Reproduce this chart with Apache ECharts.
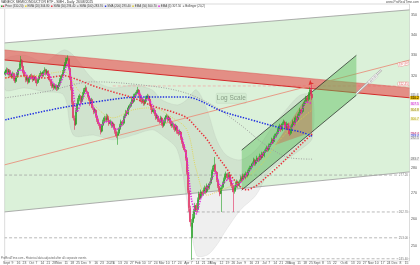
<!DOCTYPE html>
<html><head><meta charset="utf-8">
<script src="https://cdn.jsdelivr.net/npm/echarts@6/dist/echarts.min.js"></script>
<style>html,body{margin:0;padding:0;background:#fff}#c{width:420px;height:265px}</style>
</head><body><div id="c"></div>
<script>
// ---------- calendar / tick labels ----------
const startDate = [2024, 7, 30];
const totalDays = 339;
const monthLabels = ['2025','Feb','Mar','Apr','May','Jun','Jul','Aug','Sept','Oct','Nov','Dec'];
const yTickValues = [350, 340, 330, 320, 280, 270, 260, 250];

// ---------- price data [open, close, low, high] ----------
const ohlc = [
[321.0,322.2,320.3,323.0],[322.0,323.1,321.2,324.2],[323.3,321.2,320.6,324.0],[321.0,322.6,320.4,323.5],[322.8,320.7,319.8,323.4],
[320.5,319.8,318.9,321.6],[319.6,321.2,319.0,322.3],[321.4,318.9,318.0,321.8],[319.2,317.9,317.0,319.9],[317.7,319.3,316.9,320.1],
[319.5,321.2,318.8,322.0],[321.0,323.1,320.4,323.9],[323.4,325.9,322.8,326.8],[326.1,327.8,325.2,329.7],[327.5,325.0,324.1,328.2],
[324.8,322.2,321.4,325.3],[322.0,320.3,319.6,322.8],[320.5,318.4,317.3,321.0],[318.2,319.3,317.6,320.2],[319.5,317.5,316.4,320.0],
[317.3,318.9,316.8,319.6],[319.1,320.3,318.5,321.1],[320.5,319.3,318.6,321.3],[319.0,318.4,317.4,319.9],[318.6,319.8,317.9,320.6],
[320.0,318.9,318.0,320.8],[318.7,317.0,315.5,319.3],[317.2,318.4,316.5,319.1],[318.6,319.8,318.0,320.5],[320.0,320.7,319.2,321.6],
[320.9,321.7,320.2,322.6],[321.5,320.3,319.4,322.1],[320.5,322.2,319.9,323.0],[322.4,323.1,321.6,324.3],[322.9,321.2,320.4,323.6],
[321.4,322.6,320.8,323.5],[322.4,320.3,319.5,322.9],[320.1,318.4,317.6,320.8],[318.2,316.6,315.6,318.8],[316.4,315.6,314.5,317.2],
[315.4,316.1,314.6,316.9],[316.3,314.7,313.8,317.0],[314.5,315.6,313.9,316.4],[315.8,314.3,313.3,316.3],[314.1,315.2,313.5,316.0],
[315.4,316.6,314.7,317.4],[316.8,318.4,316.1,319.2],[318.6,320.3,318.0,321.1],[320.5,322.2,319.8,323.0],[322.4,324.0,321.7,324.9],
[324.2,325.9,323.5,326.8],[326.1,327.8,325.3,328.9],[328.0,328.7,327.2,330.0],[328.4,324.0,323.2,328.9],[323.8,319.3,318.4,324.3],
[319.1,314.7,313.6,319.6],[314.5,308.4,307.2,315.0],[308.2,301.3,300.1,308.8],[301.0,298.2,296.1,302.3],[298.5,303.9,297.8,304.8],
[304.1,307.0,303.2,307.9],[307.2,309.3,306.4,310.1],[309.5,311.1,308.6,312.0],[310.9,308.4,307.5,311.5],[308.6,310.2,307.8,311.1],
[310.4,312.0,309.6,312.9],[312.2,313.8,311.4,314.6],[314.0,314.7,313.2,315.9],[314.5,312.9,312.0,315.2],[312.7,311.1,310.3,313.4],
[310.9,309.7,308.8,311.6],[309.5,307.5,306.6,310.1],[307.7,309.3,307.0,310.2],[309.1,305.7,304.8,309.7],[305.5,303.9,302.9,306.2],
[304.1,304.8,303.2,305.8],[304.6,302.2,301.3,305.2],[302.0,300.4,299.5,302.7],[300.2,298.7,297.7,300.9],[298.5,297.0,296.1,299.2],
[296.8,295.3,294.1,297.5],[295.5,297.8,294.9,298.6],[298.0,299.6,297.2,300.5],[299.8,301.3,299.0,302.2],[301.1,300.4,299.5,302.0],
[300.6,302.2,299.9,303.1],[302.0,300.4,299.5,302.8],[300.2,298.7,297.8,300.9],[298.9,299.6,298.0,300.5],[299.4,297.8,296.9,300.0],
[298.0,298.7,297.1,299.6],[298.5,297.0,296.1,299.2],[296.8,295.3,294.4,297.5],[295.1,293.5,292.5,295.8],[293.7,294.4,289.7,295.3],
[294.6,296.1,293.8,297.0],[296.3,297.8,295.5,298.7],[298.0,299.6,297.2,300.5],[299.4,298.7,297.8,300.3],[298.9,301.3,298.1,302.2],
[301.5,302.2,300.7,303.1],[302.4,303.9,301.6,304.8],[303.7,303.0,302.1,304.6],[303.2,305.7,302.5,306.6],[305.9,306.6,305.1,307.5],
[306.4,307.5,305.7,308.4],[307.7,309.3,307.0,310.2],[309.1,308.4,307.5,310.0],[308.6,311.1,307.8,312.0],[311.3,312.0,310.5,312.9],
[312.2,312.9,311.4,313.8],[313.1,313.8,312.3,315.2],[313.6,312.0,311.1,314.2],[311.8,310.2,309.3,312.5],[310.0,308.4,307.5,310.7],
[308.6,309.3,307.7,310.2],[309.1,307.5,306.6,309.8],[307.7,308.4,306.8,309.3],[308.6,310.2,307.9,311.1],[310.4,311.1,309.6,312.0],
[310.9,309.7,308.8,311.6],[309.5,307.5,306.6,310.1],[307.3,305.7,304.8,308.0],[305.5,303.9,303.0,306.2],[304.1,304.8,303.2,305.7],
[304.6,303.0,302.1,305.3],[302.8,301.3,300.4,303.5],[301.5,302.2,300.7,303.1],[302.0,300.4,299.5,302.7],[300.2,299.6,298.7,301.0],
[299.8,301.3,299.0,302.2],[301.1,298.7,297.8,301.8],[298.5,297.8,296.9,299.4],[298.0,299.6,297.2,300.5],[299.8,301.3,299.0,302.2],
[301.5,302.2,300.7,303.1],[302.0,300.4,299.5,302.7],[300.6,301.3,299.8,302.2],[301.1,299.6,298.7,301.8],[299.4,297.8,296.9,300.1],
[298.0,298.7,297.1,299.6],[298.5,297.0,296.1,299.2],[296.8,296.1,295.2,297.6],[296.3,297.8,295.5,298.7],[297.6,295.3,294.4,298.2],
[295.1,294.4,293.5,295.9],[294.6,295.3,293.8,296.2],[295.1,292.7,291.8,295.6],[292.5,291.0,290.1,293.2],[290.8,289.3,288.4,291.5],
[289.1,287.6,286.6,289.8],[287.4,284.2,283.1,288.0],[284.0,278.5,277.4,284.5],[278.3,271.3,270.1,278.8],[271.0,264.3,262.8,271.6],
[264.0,259.0,257.2,265.1],[253.0,258.5,245.0,260.0],[258.7,260.5,256.8,262.0],[260.3,262.7,259.4,263.8],[262.9,265.1,262.0,266.2],
[265.3,263.5,262.4,266.1],[263.7,267.4,263.0,268.3],[267.6,269.7,266.8,270.6],[269.5,268.2,267.3,270.2],[268.4,270.5,267.6,271.4],
[270.3,269.7,268.8,271.2],[269.9,271.3,269.0,272.2],[271.5,272.1,270.6,273.0],[271.9,270.5,269.6,272.7],[270.7,272.9,270.0,273.8],
[272.7,272.1,271.2,273.5],[272.3,273.7,271.5,274.6],[273.9,275.3,273.1,276.2],[275.5,278.5,274.8,279.4],[278.7,280.1,277.9,281.0],
[280.3,281.3,279.5,284.6],[281.1,278.5,277.6,281.8],[278.3,275.3,274.4,278.9],[275.1,272.9,272.0,275.8],[272.7,271.3,270.4,273.4],
[271.1,269.7,268.8,271.8],[269.9,272.1,262.7,273.0],[272.3,273.7,271.5,274.6],[273.9,275.3,273.1,276.2],[275.5,276.9,274.7,277.8],
[277.1,277.7,276.3,278.6],[277.5,276.1,275.2,278.2],[276.3,277.3,275.5,278.2],[277.1,275.3,274.4,277.8],[275.1,273.7,272.8,275.8],
[273.5,272.9,272.0,274.4],[272.7,270.5,262.7,273.2],[270.7,272.1,269.8,273.0],[272.3,273.7,271.5,274.6],[273.9,274.5,273.0,275.4],
[274.3,272.9,272.0,275.0],[273.1,274.5,272.3,275.4],[274.7,276.1,273.9,277.0],[275.9,275.3,274.4,276.8],[275.5,276.9,274.7,277.8],
[276.7,276.1,275.2,277.6],[276.3,277.7,275.5,278.6],[277.5,276.9,276.0,278.4],[277.1,278.5,276.3,279.4],[278.7,279.3,277.9,280.2],
[279.5,280.1,278.7,281.0],[280.3,280.9,279.5,281.8],[281.1,281.8,280.3,282.7],[282.0,283.4,281.2,284.3],[283.2,281.8,280.9,283.9],
[282.0,282.6,281.1,283.5],[282.8,284.2,282.0,285.1],[284.0,283.4,282.5,284.9],[283.6,285.1,282.8,286.0],[284.9,284.2,283.3,285.7],
[284.4,285.9,283.6,286.8],[285.7,285.1,284.2,286.6],[285.3,286.8,284.5,287.7],[287.0,287.6,286.2,288.5],[287.8,288.4,287.0,289.3],
[288.2,287.6,286.7,289.1],[287.8,289.3,287.0,290.2],[289.5,290.1,288.7,291.0],[290.3,291.8,289.5,292.7],[291.6,290.9,290.0,292.4],
[291.1,292.7,290.3,293.6],[292.9,293.5,292.1,294.4],[293.7,294.4,292.9,295.3],[294.6,296.1,293.8,297.0],[296.3,297.0,295.5,297.9],
[297.2,297.8,296.4,298.7],[297.6,296.1,295.2,298.3],[296.3,298.7,295.5,299.6],[298.9,299.6,298.1,300.5],[299.4,297.8,296.9,300.1],
[297.6,297.0,296.1,298.5],[297.2,298.7,296.4,299.6],[298.5,296.1,295.2,299.2],[295.9,294.4,293.5,296.6],[294.6,297.0,293.8,297.9],
[297.2,297.8,296.4,298.7],[298.0,299.6,297.2,300.5],[299.4,298.7,297.8,300.3],[298.9,301.3,298.1,302.2],[301.1,300.4,299.5,302.0],
[300.6,302.2,299.8,303.1],[302.4,303.0,301.6,303.9],[303.2,304.8,302.4,305.7],[304.6,303.9,303.0,305.4],[304.1,306.6,303.3,307.5],
[306.8,307.5,306.0,308.4],[307.7,308.4,306.9,309.3],[308.6,310.2,307.8,311.1],[310.0,309.3,308.4,311.0],[309.5,312.0,308.7,312.9],
[312.2,313.8,311.4,315.0],[313.6,312.0,311.1,314.7],[311.8,310.2,309.3,316.3]
];

// ---------- indicators [dayIndex, value] ----------
const ema5 = [[0,321.2],[4,321.7],[8,319.8],[12,323.1],[16,322.2],[20,319.3],[24,319.3],[28,319.3],[32,321.2],[36,321.2],[40,317.0],[44,315.2],[48,319.3],[52,325.9],[56,316.1],[60,303.9],[64,308.4],[68,312.9],[72,308.4],[76,303.0],[80,297.8],[84,299.6],[88,299.6],[92,296.1],[96,297.0],[100,301.3],[104,305.7],[108,310.2],[112,312.5],[116,309.3],[120,309.3],[124,305.7],[128,301.3],[132,299.6],[136,301.3],[140,298.7],[144,297.0],[148,292.7],[152,284.2],[156,267.4],[160,262.0],[164,268.2],[168,271.3],[172,274.5],[176,278.5],[180,272.9],[184,274.5],[188,276.1],[192,272.9],[196,273.7],[200,276.1],[204,278.5],[208,281.8],[212,283.4],[216,285.9],[220,288.4],[224,290.9],[228,294.4],[232,297.8],[236,297.8],[240,297.0],[244,300.4],[248,303.9],[252,308.4],[257,307.5]];
const sma50 = [[0,319.3],[16,320.3],[32,319.3],[49,320.3],[61,318.4],[74,315.6],[90,312.9],[107,310.2],[123,306.6],[140,303.9],[152,301.3],[160,297.0],[169,291.8],[177,285.5],[185,280.1],[193,274.5],[202,271.3],[210,272.9],[218,276.1],[230,281.3],[243,287.6],[257,294.4]];
const sma200 = [[0,300.4],[38,304.8],[76,308.4],[115,310.6],[150,310.6],[183,303.9],[206,300.4],[230,297.0],[247,295.2],[257,293.4]];
const sma100 = [[0,310.2],[33,312.9],[74,317.5],[115,316.0],[148,312.9],[173,307.0],[197,298.2],[218,289.6],[239,284.2],[257,283.7]];
const ema20 = [[0,319.3],[24,320.3],[49,322.2],[61,313.8],[74,307.0],[90,301.3],[107,304.8],[123,305.7],[140,301.3],[152,296.1],[160,279.3],[169,269.2],[181,271.3],[197,274.5],[214,281.3],[230,291.8],[247,300.4],[257,304.8]];
const ema50Last = 300.7;
const bbUpper = [[0,327.8],[16,330.0],[33,326.9],[49,332.6],[57,330.0],[74,318.4],[90,314.7],[107,316.0],[123,313.8],[131,309.3],[144,307.0],[152,309.3],[160,313.8],[169,304.8],[177,291.8],[185,285.4],[197,283.4],[210,287.6],[222,296.1],[235,304.8],[247,311.4],[257,311.4]];
const bbLower = [[0,313.8],[16,314.7],[33,312.9],[49,311.4],[57,293.8],[74,293.8],[90,291.8],[107,293.8],[123,296.1],[131,293.8],[144,287.6],[152,267.4],[160,246.7],[169,246.7],[177,250.3],[185,255.9],[197,263.5],[210,269.2],[222,279.3],[235,283.4],[247,287.6],[257,292.5]];

// ---------- drawn objects [dayIndex, value] ----------
const bigChannelUpper = [[-1,336.0],[339,352.6]];
const bigChannelLower = [[-1,262.7],[339,278.5]];
const bandTop = [[-1,332.6],[339,314.7]];
const bandBottom = [[-1,327.8],[339,310.2]];
const thinRedLine = [[-1,281.3],[339,327.8]];
const trendUpper = [[198,287.5],[294,330.0]];
const trendLower = [[198,271.2],[294,311.4]];
const trendExtension = [[294,312.1],[315,323.0]];
const wedge = [[226,289.6],[257,314.7],[257,295.1]];
const levelValues = [277.2, 262.7, 253.0, 245.4];
const levelStarts = [-1, 152, -1, 156];
const pinkLevel = 315.6, pinkLevelStart = 90;
const signalPoint = [254, 316.0];

// ---------- build categories ----------
const cats = [], catDates = [];
{
  const d = new Date(Date.UTC(startDate[0], startDate[1], startDate[2]));
  while (cats.length < totalDays) {
    const wd = d.getUTCDay();
    if (wd > 0 && wd < 6) { catDates.push(new Date(d)); cats.push(d.toISOString().slice(0,10)); }
    d.setUTCDate(d.getUTCDate() + 1);
  }
}
const labelText = cats.map(() => '');
{
  let lastMonthStart = -10;
  for (let i = 0; i < catDates.length; i++) {
    const d = catDates[i], p = i > 0 ? catDates[i-1] : null;
    if (p && d.getUTCMonth() !== p.getUTCMonth()) {
      labelText[i] = d.getUTCMonth() === 0 ? String(d.getUTCFullYear()) : monthLabels[d.getUTCMonth()];
      lastMonthStart = i; continue;
    }
    if (d.getUTCDay() === 1 && i > 0) {
      let near = false;
      for (let k = 1; k <= 2 && i+k < catDates.length; k++) if (catDates[i+k].getUTCMonth() !== d.getUTCMonth()) near = true;
      if (!near && i - lastMonthStart > 2) labelText[i] = String(d.getUTCDate());
    }
  }
}

const lastClose = ohlc[ohlc.length-1][1];
const lastOf = a => a[a.length-1][1];

// ---------- helpers ----------
function shapeSeries(z, build, clip) {
  return {
    type: 'custom', z: z, silent: true, data: [[0, 300]],
    renderItem: function (params, api) {
      const cs = params.coordSys;
      const g = { type: 'group', children: build(api, cs) };
      if (clip !== false) g.clipPath = { type: 'rect', shape: { x: cs.x, y: cs.y, width: cs.width, height: cs.height } };
      return g;
    }
  };
}
const P = (api, pts) => pts.map(p => api.coord(p));
const polyline = (api, pts, stroke, w, dash) => ({ type: 'polyline', shape: { points: P(api, pts) }, style: { stroke: stroke, lineWidth: w, fill: null, lineDash: dash || null } });
const polygon = (api, pts, fill) => ({ type: 'polygon', shape: { points: P(api, pts) }, style: { fill: fill } });

const tagStyles = {
  bbU: ['#777', '#ececec'], close: ['#000', '#e9b800'], ema5: ['#d010d0', '#f7e4f7'], ema20: ['#9a8a00', '#f5f2d6'],
  ema50: ['#b3a300', '#f7f5dc'], sma50: ['#b02068', '#f6e2ec'], sma200: ['#1c2fd0', '#e2e5fa'], bbL: ['#777', '#ececec'], sma100: ['#777', '#ececec']
};
const tags = [
  ['bbU', lastOf(bbUpper)], ['close', lastClose], ['ema5', lastOf(ema5)], ['ema20', lastOf(ema20)], ['ema50', ema50Last],
  ['sma50', lastOf(sma50)], ['sma200', lastOf(sma200)], ['bbL', lastOf(bbLower)], ['sma100', lastOf(sma100)]
];

const lineS = (data, color, width, dash, z, smooth) => ({
  type: 'line', data: data, symbol: 'none', smooth: smooth === undefined ? 0.35 : smooth, silent: true, z: z,
  lineStyle: { color: color, width: width, type: dash }
});

const FONT = 'Liberation Sans, Arial, sans-serif';
const chart = echarts.init(document.getElementById('c'), null, { renderer: 'canvas' });

const option = {
  animation: false,
  backgroundColor: '#ffffff',
  textStyle: { fontFamily: FONT },
  grid: { left: 0, right: 9, top: 4, bottom: 4, show: true, borderColor: '#c4c4c4', borderWidth: 0.6, backgroundColor: 'transparent' },
  xAxis: {
    type: 'category', data: cats, boundaryGap: true,
    axisLine: { show: false }, axisTick: { show: false }, splitLine: { show: false },
    axisLabel: { interval: (i) => labelText[i] !== '', formatter: (v, i) => labelText[i], fontSize: 3.4, color: '#555', margin: 0.8, hideOverlap: false }
  },
  yAxis: {
    type: 'log', logBase: 10, position: 'right', min: 244.6, max: 355.6,
    splitLine: { show: false }, axisLine: { show: false }, axisTick: { show: false },
    axisLabel: { customValues: yTickValues, fontSize: 3.6, color: '#555', margin: 1.5, formatter: v => String(Math.round(v)) }
  },
  series: [
    shapeSeries(1, (api) => [
      polygon(api, [bigChannelUpper[0], bigChannelUpper[1], bigChannelLower[1], bigChannelLower[0]], 'rgba(190,230,185,0.55)'),
      polyline(api, bigChannelUpper, '#9a9a9a', 0.8),
      polyline(api, bigChannelLower, '#9a9a9a', 0.8)
    ]),
    shapeSeries(2, (api) => [
      { type: 'polygon', shape: { points: P(api, bbUpper.concat(bbLower.slice().reverse())), smooth: 0.3 }, style: { fill: 'rgba(150,150,150,0.15)', stroke: 'rgba(150,150,150,0.28)', lineWidth: 0.4 } }
    ]),
    shapeSeries(3, (api, cs) => {
      const out = [];
      levelValues.forEach((v, k) => {
        out.push(polyline(api, [[levelStarts[k], v], [339, v]], '#9c9c9c', 0.7, [3, 2]));
        const pt = api.coord([0, v]);
        out.push({ type: 'text', style: { text: v.toFixed(2), x: cs.x + cs.width - 1, y: pt[1], fill: '#777', fontSize: 3, fontFamily: FONT, align: 'right', verticalAlign: 'middle', backgroundColor: '#fff', padding: [0.2, 0.5] } });
      });
      out.push(polyline(api, [[pinkLevelStart, pinkLevel], [339, pinkLevel]], '#f2a5a5', 0.7, [3, 2]));
      return out;
    }),
    shapeSeries(4, (api, cs) => {
      const b1 = api.coord(bandTop[1]);
      const t1 = api.coord(thinRedLine[1]);
      const bandMid = (bandTop[1][1] + bandBottom[1][1]) / 2;
      return [
        polygon(api, [bandTop[0], bandTop[1], bandBottom[1], bandBottom[0]], 'rgba(232,80,80,0.62)'),
        polyline(api, bandTop, 'rgba(220,70,70,0.8)', 0.6),
        polyline(api, bandBottom, '#d42a2a', 1),
        polyline(api, thinRedLine, '#e8927e', 0.9),
        { type: 'text', style: { text: bandMid.toFixed(2), x: cs.x + cs.width - 1, y: b1[1] - 4, fill: '#e06060', fontSize: 3, fontFamily: FONT, align: 'right', verticalAlign: 'middle', backgroundColor: '#fff', borderColor: '#e88', borderWidth: 0.4, padding: [0.2, 0.6] } },
        { type: 'text', rotation: 0.2, x: cs.x + cs.width - 1, y: t1[1] + 3, style: { text: thinRedLine[1][1].toFixed(2), x: 0, y: 0, fill: '#e06060', fontSize: 3, fontFamily: FONT, align: 'right', verticalAlign: 'middle', backgroundColor: '#fff', borderColor: '#e88', borderWidth: 0.4, padding: [0.2, 0.6] } }
      ];
    }),
    shapeSeries(5, (api) => {
      const e1 = api.coord(trendExtension[1]), e0 = api.coord(trendExtension[0]);
      const ang = Math.atan2(e1[1] - e0[1], e1[0] - e0[0]);
      return [
        polygon(api, [trendUpper[0], trendUpper[1], trendLower[1], trendLower[0]], 'rgba(90,190,90,0.45)'),
        polyline(api, trendUpper, '#222', 0.7),
        polyline(api, trendLower, '#222', 0.7),
        polyline(api, trendExtension, '#aaa', 2.2),
        polyline(api, trendExtension, '#fff', 1),
        { type: 'text', rotation: -ang, x: (e0[0] + e1[0]) / 2 + 4, y: (e0[1] + e1[1]) / 2 - 3, style: { text: trendExtension[1][1].toFixed(2), x: 0, y: 0, fill: '#888', fontSize: 3, fontFamily: FONT, align: 'center', verticalAlign: 'middle', backgroundColor: '#f4f4f4', borderColor: '#bbb', borderWidth: 0.4, padding: [0.2, 0.6] } },
        polygon(api, wedge, 'rgba(205,100,70,0.42)')
      ];
    }),
    {
      type: 'candlestick', data: ohlc, barWidth: 1.5, z: 10, silent: true,
      itemStyle: { color: '#25a025', color0: '#e0285c', borderColor: '#25a025', borderColor0: '#e0285c', borderWidth: 0.6 }
    },
    lineS(sma100, '#9e9e9e', 1, [1, 1.5], 11),
    lineS(ema20, '#e2d240', 0.8, [1, 1.2], 11),
    lineS(sma200, '#1f2ee0', 1.5, [1.4, 1.4], 12),
    lineS(sma50, '#e8323c', 1.5, [1.4, 1.6], 12),
    lineS(ema5, '#e21ee2', 1.5, [1.3, 1.3], 13, 0.25),
    {
      type: 'scatter', data: [signalPoint], symbol: 'arrow', symbolSize: [4, 5], symbolRotate: 135, z: 14, silent: true,
      itemStyle: { color: '#e01818' }
    },
    shapeSeries(20, (api, cs) => tags.map(t => {
      const y = api.coord([0, t[1]])[1];
      const st = tagStyles[t[0]];
      return { type: 'text', style: { text: t[1].toFixed(1), x: cs.x + cs.width + 0.6, y: y, fill: st[0], fontSize: 3.2, fontFamily: FONT, align: 'left', verticalAlign: 'middle', backgroundColor: st[1], padding: [0.3, 0.6] } };
    }), false)
  ],
  graphic: [
    { type: 'text', left: 1, top: 0.2, style: { text: 'VANECK SEMICONDUCTOR ETF - SMH - Daily  26/08/2025', fill: '#333', fontSize: 3.4, fontFamily: FONT } },
    { type: 'rect', left: 0, top: 4.6, shape: { width: 170, height: 4.4 }, style: { fill: '#ebebeb' } },
    { type: 'text', left: 1, top: 5.2, style: {
        text: '{g|■}{r|■} Price (' + lastClose.toFixed(2) + ')  {y|■} EMA (20) ' + lastOf(ema20).toFixed(2) + '  {re|■} SMA (50) ' + lastOf(sma50).toFixed(2) +
              '  {gr|■} SMA (100) ' + lastOf(sma100).toFixed(2) + '  {b|■} SMA (200) ' + lastOf(sma200).toFixed(2) + '  {y|■} EMA (50) ' + ema50Last.toFixed(2) +
              '  {m|■} EMA (5) ' + lastOf(ema5).toFixed(2) + '  {gr|■} Bollinger (20,2)',
        fill: '#444', fontSize: 2.9, fontFamily: FONT,
        rich: { g: { fill: '#25a025', fontSize: 2.9 }, r: { fill: '#e0285c', fontSize: 2.9 }, y: { fill: '#e2cf30', fontSize: 2.9 }, re: { fill: '#e8323c', fontSize: 2.9 },
                gr: { fill: '#999', fontSize: 2.9 }, b: { fill: '#1f2ee0', fontSize: 2.9 }, m: { fill: '#e21ee2', fontSize: 2.9 } } } },
    { type: 'text', right: 1, top: 0.6, style: { text: 'www.ProRealTime.com', fill: '#555', fontSize: 3.2, fontFamily: FONT } },
    { type: 'group', left: 216, top: 93, children: [
        { type: 'rect', shape: { x: 0, y: 0, width: 30, height: 10, r: 1 }, style: { fill: '#eef3ee', stroke: '#c9cfc9', lineWidth: 0.6 } },
        { type: 'text', style: { text: 'Log Scale', x: 15, y: 5.2, fill: '#444', fontSize: 6.5, fontFamily: FONT, align: 'center', verticalAlign: 'middle' } }
    ] },
    { type: 'text', left: 1, top: 257.2, style: { text: 'ProRealTime.com - Historical data adjusted after all corporate events', fill: '#666', fontSize: 2.8, fontFamily: FONT } }
  ]
};
chart.setOption(option);
</script>
</body></html>
